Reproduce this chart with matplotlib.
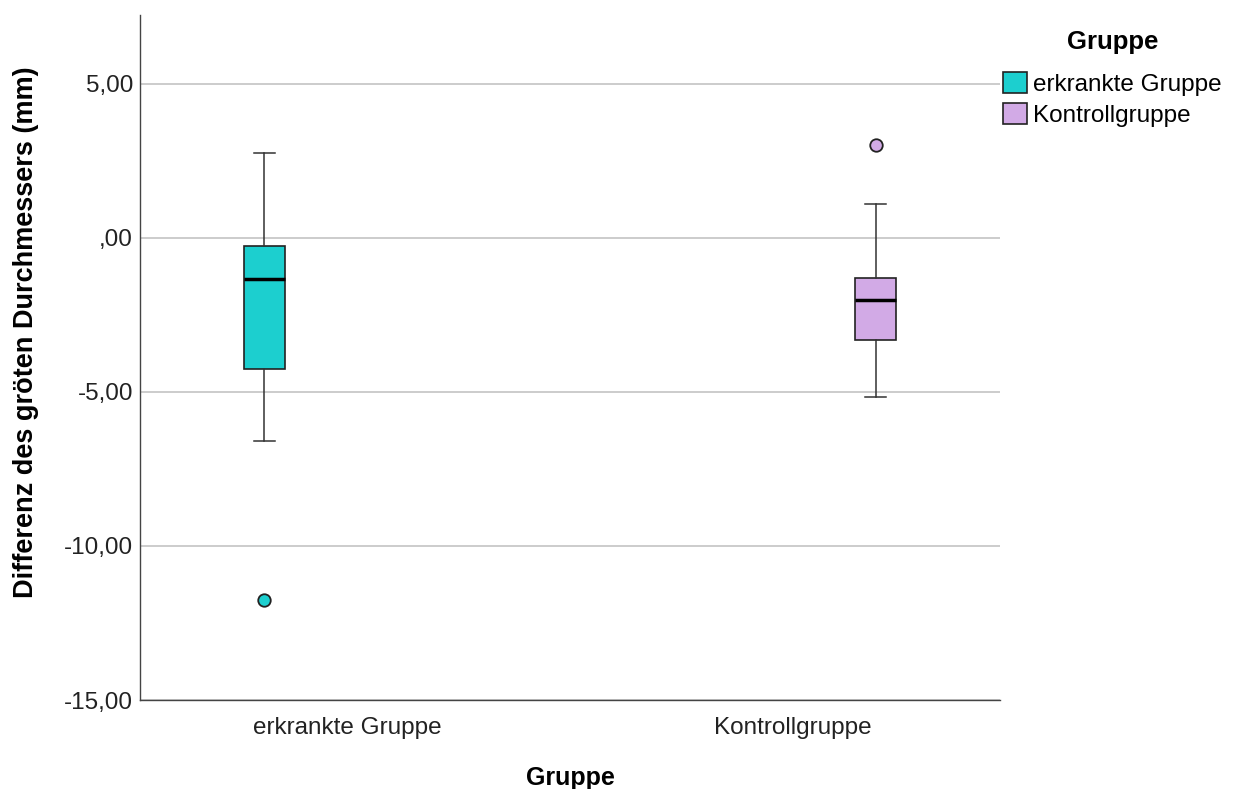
import matplotlib.pyplot as plt
from matplotlib.patches import Patch

# Kennwerte der Boxplots (mm)
gruppen = ["erkrankte Gruppe", "Kontrollgruppe"]
farben = ["#1ccfcf", "#d2aae6"]
whisker_hi = [2.75, 1.10]
q3 = [-0.27, -1.31]
median = [-1.33, -2.00]
q1 = [-4.26, -3.31]
whisker_lo = [-6.59, -5.15]
ausreisser = [[-11.75], [3.02]]

y_ticks = [5, 0, -5, -10, -15]
y_labels = ["5,00", ",00", "-5,00", "-10,00", "-15,00"]

plt.rcParams["font.family"] = ["Liberation Sans", "DejaVu Sans"]

fig = plt.figure(figsize=(12.42, 7.89), dpi=100)
ax = fig.add_axes([0.1127, 0.1128, 0.6925, 0.8682])

# Gruppe i sitzt in Kategorie i, jeweils im eigenen Cluster-Slot
offsets = [-0.187, 0.187]
pos = [i + offsets[i] for i in range(len(gruppen))]

stats = []
for i, g in enumerate(gruppen):
    stats.append(dict(label=g, med=median[i], q1=q1[i], q3=q3[i],
                      whislo=whisker_lo[i], whishi=whisker_hi[i],
                      fliers=ausreisser[i]))

bp = ax.bxp(stats, positions=pos, widths=0.094, patch_artist=True,
            showfliers=True,
            boxprops=dict(edgecolor="#222222", linewidth=1.2),
            medianprops=dict(color="black", linewidth=2.5),
            whiskerprops=dict(color="#333333", linewidth=1.1),
            capprops=dict(color="#333333", linewidth=1.1),
            capwidths=0.047)
for i, box in enumerate(bp["boxes"]):
    box.set_facecolor(farben[i])
    fl = bp["fliers"][i]
    fl.set_marker("o")
    fl.set_markerfacecolor(farben[i])
    fl.set_markeredgecolor("#222222")
    fl.set_markersize(9)
    fl.set_markeredgewidth(1.3)

ax.set_xlim(-0.467, 1.467)
ax.set_ylim(-15, 7.24)
ax.set_xticks(range(len(gruppen)))
ax.set_xticklabels(gruppen, fontsize=17.5, color="#222222")
ax.set_yticks(y_ticks)
ax.set_yticklabels(y_labels, fontsize=17.5, color="#222222")
ax.tick_params(axis="x", length=0, pad=12)
ax.tick_params(axis="y", length=0, pad=5)
ax.yaxis.grid(True, color="#c8c8c8", linewidth=1.3)
ax.set_axisbelow(True)

for s in ["top", "right"]:
    ax.spines[s].set_visible(False)
for s in ["left", "bottom"]:
    ax.spines[s].set_color("#444444")
    ax.spines[s].set_linewidth(1.0)

ax.set_xlabel("Gruppe", fontsize=18, fontweight="bold", labelpad=20)
ax.set_ylabel("Differenz des gröten Durchmessers (mm)", fontsize=19.5,
              fontweight="bold", va="center", ha="center")
ax.yaxis.set_label_coords(-0.132, 0.537)

handles = [Patch(facecolor=farben[i], edgecolor="#222222", linewidth=1.2,
                 label=g) for i, g in enumerate(gruppen)]
leg = fig.legend(handles=handles, title="Gruppe", loc="upper left",
                 bbox_to_anchor=(0.7996, 0.9745), frameon=False, fontsize=17.5,
                 title_fontproperties=dict(weight="bold", size=18.5),
                 handlelength=1.0, handleheight=0.95, handletextpad=0.25,
                 labelspacing=0.3, borderaxespad=0)
leg._legend_box.align = "center"
leg._legend_box.sep = 13

fig.savefig("out.png", dpi=100)
